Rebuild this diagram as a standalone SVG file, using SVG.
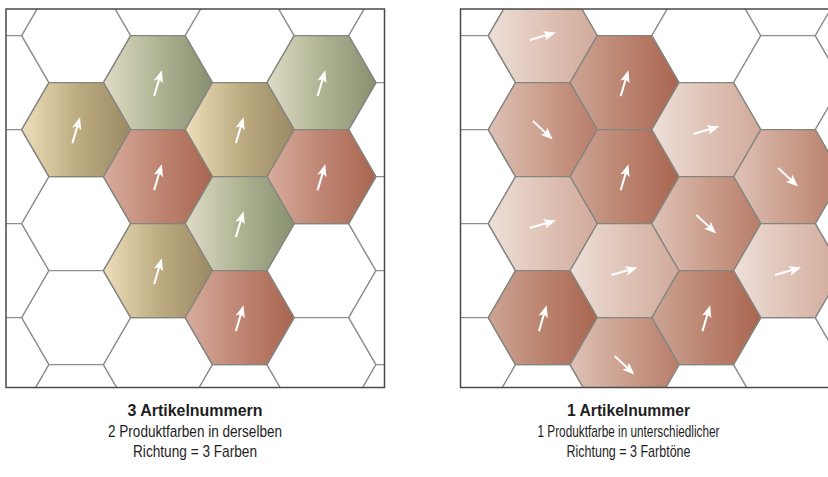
<svg xmlns="http://www.w3.org/2000/svg" xmlns:xlink="http://www.w3.org/1999/xlink" width="828" height="477" viewBox="0 0 828 477">
<style>
.grid use{fill:#fff;stroke:#8e8e8e;stroke-width:1.3}
.node use.h{stroke:#858580;stroke-width:1.3}
.frame{fill:none;stroke:#4a4a4a;stroke-width:1.5}
.t{font-family:"Liberation Sans",Arial,sans-serif;font-size:17px;fill:#1e1e1e;text-anchor:middle}
.b{font-weight:bold}
</style>
<defs>
<path id="hex" d="M54.5,0 L27.25,47 L-27.25,47 L-54.5,0 L-27.25,-47 L27.25,-47 Z"/>
<g id="arr">
<line x1="-13.5" y1="0" x2="5" y2="0" stroke="#fff" stroke-width="2"/>
<polygon points="13.5,0 1.5,-4.8 4,0 1.5,4.8" fill="#fff"/>
</g>
<linearGradient id="gGreen" x1="0" y1="0" x2="1" y2="0"><stop offset="0" stop-color="#e0dcc6"/><stop offset="0.5" stop-color="#afb493"/><stop offset="1" stop-color="#879070"/></linearGradient>
<linearGradient id="gTan" x1="0" y1="0" x2="1" y2="0"><stop offset="0" stop-color="#eedfbb"/><stop offset="0.5" stop-color="#bead82"/><stop offset="1" stop-color="#9a8963"/></linearGradient>
<linearGradient id="gRed" x1="0" y1="0" x2="1" y2="0"><stop offset="0" stop-color="#d8ac9e"/><stop offset="0.5" stop-color="#bf8673"/><stop offset="1" stop-color="#a8654f"/></linearGradient>
<linearGradient id="gDark" x1="0" y1="0" x2="1" y2="0"><stop offset="0" stop-color="#cda595"/><stop offset="0.5" stop-color="#bb8470"/><stop offset="1" stop-color="#a8654f"/></linearGradient>
<linearGradient id="gMed" x1="0" y1="0" x2="1" y2="0"><stop offset="0" stop-color="#dfc2b6"/><stop offset="0.5" stop-color="#cb9f8d"/><stop offset="1" stop-color="#b77d69"/></linearGradient>
<linearGradient id="gLight" x1="0" y1="0" x2="1" y2="0"><stop offset="0" stop-color="#eee0d9"/><stop offset="0.5" stop-color="#dfc3b7"/><stop offset="1" stop-color="#d1aa9a"/></linearGradient>
<clipPath id="clipL"><rect x="6" y="9" width="378.5" height="378.5"/></clipPath>
<clipPath id="clipR"><rect x="460.5" y="9" width="378.5" height="378.5"/></clipPath>
</defs>
<rect width="828" height="477" fill="#fff"/>

<!-- Left panel -->
<g id="left-panel" clip-path="url(#clipL)">
<g class="grid">
<use href="#hex" x="-5.55" y="-11.3"/><use href="#hex" x="-5.55" y="82.7"/><use href="#hex" x="-5.55" y="176.7"/><use href="#hex" x="-5.55" y="270.7"/><use href="#hex" x="-5.55" y="364.7"/>
<use href="#hex" x="76.2" y="35.7"/><use href="#hex" x="76.2" y="129.7"/><use href="#hex" x="76.2" y="223.7"/><use href="#hex" x="76.2" y="317.7"/><use href="#hex" x="76.2" y="411.7"/>
<use href="#hex" x="157.95" y="-11.3"/><use href="#hex" x="157.95" y="82.7"/><use href="#hex" x="157.95" y="176.7"/><use href="#hex" x="157.95" y="270.7"/><use href="#hex" x="157.95" y="364.7"/>
<use href="#hex" x="239.7" y="35.7"/><use href="#hex" x="239.7" y="129.7"/><use href="#hex" x="239.7" y="223.7"/><use href="#hex" x="239.7" y="317.7"/><use href="#hex" x="239.7" y="411.7"/>
<use href="#hex" x="321.45" y="-11.3"/><use href="#hex" x="321.45" y="82.7"/><use href="#hex" x="321.45" y="176.7"/><use href="#hex" x="321.45" y="270.7"/><use href="#hex" x="321.45" y="364.7"/>
<use href="#hex" x="403.2" y="35.7"/><use href="#hex" x="403.2" y="129.7"/><use href="#hex" x="403.2" y="223.7"/><use href="#hex" x="403.2" y="317.7"/><use href="#hex" x="403.2" y="411.7"/>
</g>
<g id="L-green-1" class="node"><use class="h" href="#hex" x="157.95" y="82.7" fill="url(#gGreen)"/><use href="#arr" transform="translate(157.95,83.2) rotate(-73.5)"/></g>
<g id="L-green-2" class="node"><use class="h" href="#hex" x="321.45" y="82.7" fill="url(#gGreen)"/><use href="#arr" transform="translate(321.45,83.2) rotate(-73.5)"/></g>
<g id="L-tan-1" class="node"><use class="h" href="#hex" x="76.2" y="129.7" fill="url(#gTan)"/><use href="#arr" transform="translate(76.2,130.2) rotate(-73.5)"/></g>
<g id="L-tan-2" class="node"><use class="h" href="#hex" x="239.7" y="129.7" fill="url(#gTan)"/><use href="#arr" transform="translate(239.7,130.2) rotate(-73.5)"/></g>
<g id="L-red-1" class="node"><use class="h" href="#hex" x="157.95" y="176.7" fill="url(#gRed)"/><use href="#arr" transform="translate(157.95,177.2) rotate(-73.5)"/></g>
<g id="L-red-2" class="node"><use class="h" href="#hex" x="321.45" y="176.7" fill="url(#gRed)"/><use href="#arr" transform="translate(321.45,177.2) rotate(-73.5)"/></g>
<g id="L-green-3" class="node"><use class="h" href="#hex" x="239.7" y="223.7" fill="url(#gGreen)"/><use href="#arr" transform="translate(239.7,224.2) rotate(-73.5)"/></g>
<g id="L-tan-3" class="node"><use class="h" href="#hex" x="157.95" y="270.7" fill="url(#gTan)"/><use href="#arr" transform="translate(157.95,271.2) rotate(-73.5)"/></g>
<g id="L-red-3" class="node"><use class="h" href="#hex" x="239.7" y="317.7" fill="url(#gRed)"/><use href="#arr" transform="translate(239.7,318.2) rotate(-73.5)"/></g>
</g>
<rect class="frame" x="6" y="9" width="378.5" height="378.5"/>

<!-- Right panel -->
<g id="right-panel" clip-path="url(#clipR)">
<g class="grid">
<use href="#hex" x="461.05" y="-11.3"/><use href="#hex" x="461.05" y="82.7"/><use href="#hex" x="461.05" y="176.7"/><use href="#hex" x="461.05" y="270.7"/><use href="#hex" x="461.05" y="364.7"/>
<use href="#hex" x="542.8" y="35.7"/><use href="#hex" x="542.8" y="129.7"/><use href="#hex" x="542.8" y="223.7"/><use href="#hex" x="542.8" y="317.7"/><use href="#hex" x="542.8" y="411.7"/>
<use href="#hex" x="624.55" y="-11.3"/><use href="#hex" x="624.55" y="82.7"/><use href="#hex" x="624.55" y="176.7"/><use href="#hex" x="624.55" y="270.7"/><use href="#hex" x="624.55" y="364.7"/>
<use href="#hex" x="706.3" y="35.7"/><use href="#hex" x="706.3" y="129.7"/><use href="#hex" x="706.3" y="223.7"/><use href="#hex" x="706.3" y="317.7"/><use href="#hex" x="706.3" y="411.7"/>
<use href="#hex" x="788.05" y="-11.3"/><use href="#hex" x="788.05" y="82.7"/><use href="#hex" x="788.05" y="176.7"/><use href="#hex" x="788.05" y="270.7"/><use href="#hex" x="788.05" y="364.7"/>
<use href="#hex" x="869.8" y="35.7"/><use href="#hex" x="869.8" y="129.7"/><use href="#hex" x="869.8" y="223.7"/><use href="#hex" x="869.8" y="317.7"/><use href="#hex" x="869.8" y="411.7"/>
</g>
<g id="R-light-1" class="node"><use class="h" href="#hex" x="542.8" y="35.7" fill="url(#gLight)"/><use href="#arr" transform="translate(542.8,36.2) rotate(-16)"/></g>
<g id="R-dark-1" class="node"><use class="h" href="#hex" x="624.55" y="82.7" fill="url(#gDark)"/><use href="#arr" transform="translate(624.55,83.2) rotate(-73.5)"/></g>
<g id="R-med-1" class="node"><use class="h" href="#hex" x="542.8" y="129.7" fill="url(#gMed)"/><use href="#arr" transform="translate(542.8,130.2) rotate(43)"/></g>
<g id="R-dark-2" class="node"><use class="h" href="#hex" x="624.55" y="176.7" fill="url(#gDark)"/><use href="#arr" transform="translate(624.55,177.2) rotate(-73.5)"/></g>
<g id="R-light-2" class="node"><use class="h" href="#hex" x="706.3" y="129.7" fill="url(#gLight)"/><use href="#arr" transform="translate(706.3,130.2) rotate(-16)"/></g>
<g id="R-med-2" class="node"><use class="h" href="#hex" x="788.05" y="176.7" fill="url(#gMed)"/><use href="#arr" transform="translate(788.05,177.2) rotate(43)"/></g>
<g id="R-light-3" class="node"><use class="h" href="#hex" x="542.8" y="223.7" fill="url(#gLight)"/><use href="#arr" transform="translate(542.8,224.2) rotate(-16)"/></g>
<g id="R-light-4" class="node"><use class="h" href="#hex" x="624.55" y="270.7" fill="url(#gLight)"/><use href="#arr" transform="translate(624.55,271.2) rotate(-16)"/></g>
<g id="R-med-3" class="node"><use class="h" href="#hex" x="706.3" y="223.7" fill="url(#gMed)"/><use href="#arr" transform="translate(706.3,224.2) rotate(43)"/></g>
<g id="R-light-5" class="node"><use class="h" href="#hex" x="788.05" y="270.7" fill="url(#gLight)"/><use href="#arr" transform="translate(788.05,271.2) rotate(-16)"/></g>
<g id="R-dark-3" class="node"><use class="h" href="#hex" x="542.8" y="317.7" fill="url(#gDark)"/><use href="#arr" transform="translate(542.8,318.2) rotate(-73.5)"/></g>
<g id="R-dark-4" class="node"><use class="h" href="#hex" x="706.3" y="317.7" fill="url(#gDark)"/><use href="#arr" transform="translate(706.3,318.2) rotate(-73.5)"/></g>
<g id="R-med-4" class="node"><use class="h" href="#hex" x="624.55" y="364.7" fill="url(#gMed)"/><use href="#arr" transform="translate(624.55,365.2) rotate(43)"/></g>
</g>
<rect class="frame" x="460.5" y="9" width="378.5" height="378.5"/>

<g id="connectors"/>

<!-- Captions -->
<g id="caption-left">
<text class="t b" x="195" y="416" textLength="135" lengthAdjust="spacingAndGlyphs">3 Artikelnummern</text>
<text class="t" x="195" y="436.5" textLength="174" lengthAdjust="spacingAndGlyphs">2 Produktfarben in derselben</text>
<text class="t" x="195" y="457" textLength="124" lengthAdjust="spacingAndGlyphs">Richtung = 3 Farben</text>
</g>
<g id="caption-right">
<text class="t b" x="628.5" y="416" textLength="123" lengthAdjust="spacingAndGlyphs">1 Artikelnummer</text>
<text class="t" x="628.5" y="436.5" textLength="182" lengthAdjust="spacingAndGlyphs">1 Produktfarbe in unterschiedlicher</text>
<text class="t" x="628.5" y="457" textLength="124" lengthAdjust="spacingAndGlyphs">Richtung = 3 Farbtöne</text>
</g>
</svg>
